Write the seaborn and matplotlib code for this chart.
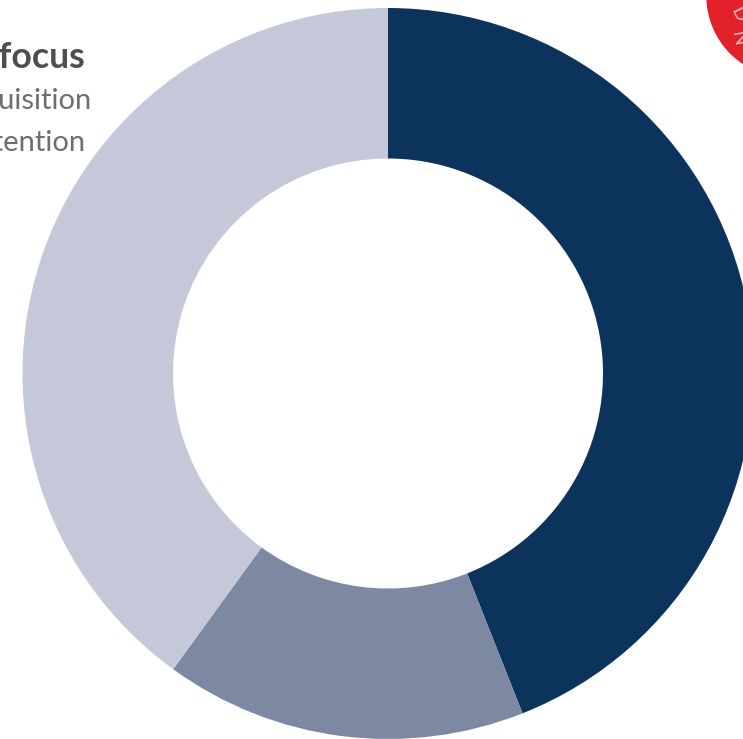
import matplotlib
matplotlib.use("Agg")
import matplotlib.pyplot as plt
import seaborn as sns
from matplotlib.patches import Circle

sns.set_theme(style="white")
plt.rcParams['font.family'] = ['Lato', 'DejaVu Sans']

# Data
categories = ["Customer focus", "Acquisition", "Retention"]
segment_labels = ["Acquisition", "Mixed", "Retention"]
values = [44, 16, 40]
colors = ["#0b335c", "#7d88a3", "#c5c8d8"]

W, H = 743, 739
fig = plt.figure(figsize=(W / 100, H / 100), dpi=100)
ax = fig.add_axes([0, 0, 1, 1])

cx, cy = 388, H - 373.5
R_out, R_in = 365.5, 215

ax.pie(values, colors=colors, startangle=90, counterclock=False,
       center=(cx, cy), radius=R_out,
       wedgeprops=dict(width=R_out - R_in, linewidth=0, antialiased=True),
       frame=True)
ax.set_xlim(0, W)
ax.set_ylim(0, H)
ax.set_aspect("equal")
ax.axis("off")

# Red badge at top-right (cropped), drawn in display pixels
badge = Circle((788, H + 4), 81, transform=None, color="#e3212a", zorder=5)
fig.patches.append(badge)
fig.text(738 / W, 1 - 14 / H, "D", color="#f6b8bb", fontsize=14,
         rotation=-65, ha="center", va="center", zorder=6)
fig.text(738 / W, 1 - 38 / H, "N", color="#f6b8bb", fontsize=14,
         rotation=-80, ha="center", va="center", zorder=6)

# Fit font sizes so the visible parts match the reference widths
renderer = fig.canvas.get_renderer()


def fit(s, target, **kw):
    t = ax.text(0, 0, s, fontsize=20, **kw)
    w = t.get_window_extent(renderer).width
    t.remove()
    return 20 * target / w


fs_head = fit("focus", 86, fontweight="bold")
fs_body = 0.5 * (fit("uisition", 90) + fit("ention", 85))

# Cropped legend text at top-left
ax.text(85, H - 57, categories[0], ha="right", va="center", fontsize=fs_head,
        fontweight="bold", color="#4d4e50")
ax.text(92, H - 101, categories[1], ha="right", va="center", fontsize=fs_body,
        color="#6d6e71")
ax.text(86, H - 143, categories[2], ha="right", va="center", fontsize=fs_body,
        color="#6d6e71")

fig.savefig("out.png", dpi=100)
